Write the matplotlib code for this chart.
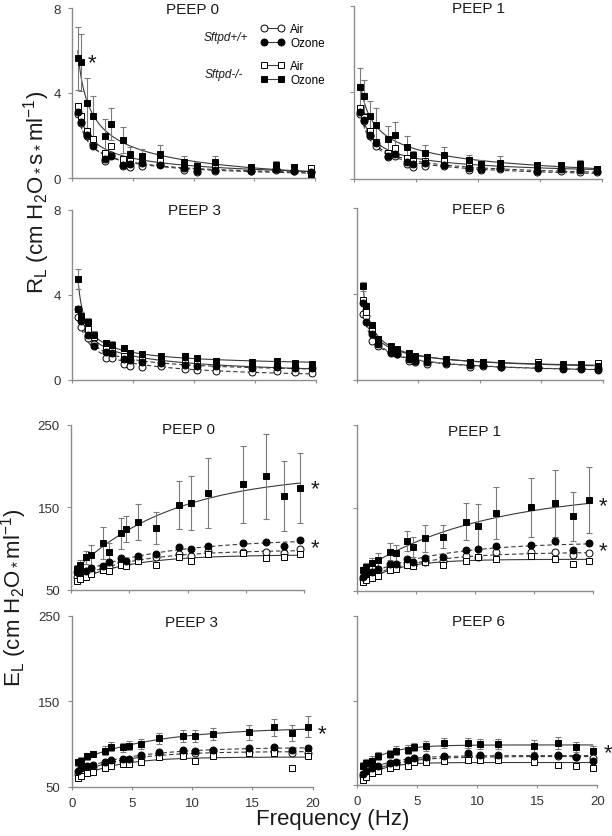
import numpy as np
import matplotlib
matplotlib.use('Agg')
import matplotlib.pyplot as plt
from matplotlib.lines import Line2D

plt.rcParams['font.family'] = ['Liberation Sans', 'DejaVu Sans']
plt.rcParams['mathtext.fontset'] = 'custom'
plt.rcParams['mathtext.rm'] = 'Liberation Sans'
plt.rcParams['mathtext.it'] = 'Liberation Sans:italic'

freq = [0.5, 0.75, 1.25, 1.75, 2.75, 3.25, 4.25, 4.75, 5.75, 7.25, 9.25, 10.25, 11.75, 14.75, 16.75, 18.25, 19.625]

# R_L  PEEP 0
r0_wt_air = [3.0, 2.6, 2.0, 1.6, 0.82, 1.1, 0.58, 0.5, 0.58, 0.66, 0.39, 0.3, 0.35, 0.32, 0.38, 0.35, 0.3]
r0_wt_oz = [3.09, 2.62, 2.02, 1.52, 0.89, 1.05, 0.63, 0.66, 0.7, 0.63, 0.45, 0.35, 0.39, 0.35, 0.42, 0.35, 0.3]
r0_ko_air = [3.37, 2.93, 2.23, 1.84, 1.2, 1.49, 0.9, 0.82, 0.78, 0.82, 0.5, 0.42, 0.45, 0.39, 0.45, 0.42, 0.45]
r0_ko_oz = [5.63, 5.44, 3.51, 2.9, 1.96, 2.54, 1.8, 1.13, 1.02, 1.13, 0.77, 0.58, 0.74, 0.5, 0.63, 0.5, 0.2]
r0_ko_oz_err = [1.47, 1.34, 1.18, 0.97, 0.82, 0.74, 0.62, 0.35, 0.34, 0.42, 0.28, 0.15, 0.28, 0.12, 0.15, 0.12, 0.1]

# R_L  PEEP 1
r1_wt_air = [3.0, 2.69, 2.0, 1.54, 1.0, 1.08, 0.69, 0.54, 0.62, 0.62, 0.43, 0.43, 0.46, 0.34, 0.38, 0.34, 0.31]
r1_wt_oz = [3.08, 2.74, 2.03, 1.66, 1.08, 1.15, 0.77, 0.69, 0.74, 0.66, 0.51, 0.46, 0.49, 0.38, 0.46, 0.43, 0.35]
r1_ko_air = [3.28, 2.85, 2.23, 1.69, 1.2, 1.42, 0.95, 0.82, 0.82, 0.82, 0.62, 0.54, 0.62, 0.46, 0.54, 0.62, 0.46]
r1_ko_oz = [4.26, 3.82, 2.92, 2.51, 1.85, 2.05, 1.49, 1.11, 1.2, 1.12, 0.88, 0.69, 0.74, 0.66, 0.66, 0.69, 0.46]
r1_ko_oz_err = [0.85, 0.77, 0.7, 0.75, 0.6, 0.6, 0.5, 0.2, 0.38, 0.38, 0.25, 0.2, 0.3, 0.1, 0.1, 0.2, 0.1]

# R_L  PEEP 3
r3_wt_air = [2.95, 2.5, 1.95, 1.7, 1.05, 1.05, 0.75, 0.65, 0.6, 0.65, 0.5, 0.45, 0.42, 0.37, 0.4, 0.37, 0.35]
r3_wt_oz = [3.35, 2.75, 2.1, 1.6, 1.3, 1.25, 1.0, 0.95, 0.85, 0.78, 0.72, 0.68, 0.65, 0.55, 0.6, 0.55, 0.55]
r3_ko_air = [3.35, 2.9, 2.4, 2.0, 1.45, 1.4, 1.15, 1.05, 0.95, 0.9, 0.8, 0.75, 0.72, 0.65, 0.65, 0.6, 0.55]
r3_ko_oz = [4.74, 3.0, 2.71, 2.13, 1.74, 1.66, 1.49, 1.27, 1.22, 1.11, 1.14, 1.03, 0.91, 0.83, 0.88, 0.8, 0.75]
r3_ko_oz_err = [0.47, 0.2, 0.2, 0.15, 0.15, 0.15, 0.15, 0.15, 0.1, 0.1, 0.12, 0.1, 0.1, 0.1, 0.1, 0.1, 0.1]

# R_L  PEEP 6
r6_wt_air = [3.07, 2.99, 1.83, 1.6, 1.29, 1.21, 0.87, 0.82, 0.74, 0.74, 0.62, 0.64, 0.59, 0.59, 0.54, 0.56, 0.56]
r6_wt_oz = [3.57, 2.68, 2.14, 1.67, 1.26, 1.21, 0.98, 0.9, 0.85, 0.79, 0.71, 0.7, 0.59, 0.54, 0.51, 0.51, 0.48]
r6_ko_air = [3.72, 3.15, 2.37, 1.9, 1.47, 1.36, 1.18, 1.05, 0.98, 0.9, 0.85, 0.82, 0.79, 0.82, 0.74, 0.74, 0.79]
r6_ko_oz = [4.36, 3.43, 2.56, 1.91, 1.57, 1.44, 1.26, 1.1, 1.09, 0.98, 0.85, 0.85, 0.79, 0.74, 0.7, 0.7, 0.67]
r6_ko_oz_err = [0.2, 0.15, 0.15, 0.1, 0.1, 0.1, 0.1, 0.1, 0.1, 0.1, 0.08, 0.08, 0.08, 0.08, 0.08, 0.08, 0.08]

# E_L  PEEP 0
e0_wt_air = [65, 67, 69, 71, 75, 77.1, 83.2, 81.2, 87.2, 89.3, 93.3, 91.3, 96.6, 96.2, 95.3, 94.5, 99.4]
e0_wt_oz = [71, 71.9, 73, 76.3, 79, 83.2, 88.5, 84.4, 91.3, 93.3, 101.4, 99.4, 103.4, 106.7, 107.5, 102.6, 110.7]
e0_ko_air = [61, 63, 65, 69, 74.3, 73, 80, 79.1, 85.2, 80.4, 89.3, 85.2, 93.3, 94.5, 88.5, 89.3, 93.3]
e0_ko_oz = [75, 80.4, 89.3, 92.1, 106.7, 96.2, 118.4, 123.7, 132.6, 124.9, 152.8, 154.9, 167.4, 177.9, 187.6, 164.2, 173.1]
e0_ko_oz_err = [5, 6, 8, 12, 19, 10, 18.6, 16, 22, 20, 29.6, 32.7, 42, 47, 51.4, 42.5, 42.5]

# E_L  PEEP 1
e1_wt_air = [64.1, 66.1, 68.9, 72.1, 77.4, 78.2, 83, 81, 85, 86.2, 92.3, 90.2, 96.3, 96.3, 96.3, 93.1, 95.5]
e1_wt_oz = [66.1, 70.1, 72.1, 76.2, 82.2, 82.2, 88.2, 84.2, 89.4, 91, 99.1, 100.3, 104.3, 105.5, 109.6, 99.5, 107.1]
e1_ko_air = [60.9, 62.9, 65.3, 68.1, 75.4, 76.2, 81, 80.2, 84.2, 81.4, 86.2, 90.2, 88.2, 92.3, 88.2, 82.2, 86.2]
e1_ko_oz = [75, 78.2, 83, 87.4, 97.1, 95.5, 109.6, 102.3, 113.2, 115.2, 133.3, 128.5, 143.8, 150.6, 155.4, 139.7, 159.9]
e1_ko_oz_err = [4, 5, 7, 8, 10, 10, 12, 12, 16, 14, 22, 26, 31, 36, 40, 30, 40]

# E_L  PEEP 3
e3_wt_air = [64.8, 66.8, 70.7, 72.6, 76.5, 78.5, 80.4, 80.4, 84.3, 88.2, 89.4, 89.4, 92.1, 90.2, 91.3, 89.4, 89.4]
e3_wt_oz = [67.9, 71.8, 74.6, 75.3, 78.5, 81.2, 82.4, 82.4, 87, 90.2, 93.3, 92.1, 93.3, 94.8, 96.8, 93.3, 94.8]
e3_ko_air = [59.7, 62.9, 66, 66.8, 71.4, 74.6, 76.5, 76.5, 78.5, 84.3, 85.5, 80.4, 86.3, 89.4, 89.4, 71.4, 86.3]
e3_ko_oz = [78.5, 80.4, 85.5, 88.2, 92.1, 96.8, 96, 98, 99.9, 106.5, 109.6, 108.9, 111.2, 113.5, 119.4, 112.8, 120.2]
e3_ko_oz_err = [4, 4, 4, 4, 5, 5, 5, 5, 6, 6, 7, 7, 7, 9, 10, 9, 12]

# E_L  PEEP 6
e6_wt_air = [61, 63, 67, 69.8, 73.7, 74.9, 76.9, 78.9, 80.8, 82.8, 84.8, 83.6, 82.8, 84, 84.8, 82.8, 81.6]
e6_wt_oz = [63, 67, 69.8, 72.1, 76.1, 77.7, 80, 82, 83.6, 84.8, 87.5, 86, 86, 84.8, 86, 82.8, 78.9]
e6_ko_air = [56.3, 59.1, 64.2, 67, 69.8, 72.9, 72.9, 76.9, 77.7, 78.9, 80, 80, 80, 76.9, 73.7, 72.9, 69.8]
e6_ko_oz = [72.1, 76.1, 78.9, 84, 86.8, 90.7, 91.9, 94.7, 96.6, 99.8, 99.8, 98.6, 98.6, 96.6, 99.8, 94.7, 90.7]
e6_ko_oz_err = [5, 5, 5, 5, 5, 5, 5, 5, 6, 6, 6, 6, 6, 7, 7, 6, 6]

W, H = 612, 837
fig = plt.figure(figsize=(W / 100, H / 100), dpi=100)


def px(x, y):
    return x / W, 1 - y / H


def make_axes(x0, x20, ytop, ybot):
    return fig.add_axes([x0 / W, 1 - ybot / H, (x20 - x0) / W, (ybot - ytop) / H])


def fit_curve(f, y, kind):
    # R: a + b*f^-c ; E: a - b*exp(-f/c) ; c picked by least squares over a grid
    f = np.array(f)
    y = np.array(y)
    fx = np.linspace(f.min(), f.max(), 200)
    best = None
    if kind == 'R':
        grid = np.linspace(0.3, 3.0, 271)
    else:
        grid = np.linspace(0.5, 40.0, 400)
    for c in grid:
        if kind == 'R':
            g = f ** -c
        else:
            g = np.exp(-f / c)
        A = np.column_stack([np.ones_like(f), g])
        coef, res, rk, sv = np.linalg.lstsq(A, y, rcond=None)
        err = np.sum((A @ coef - y) ** 2)
        if best is None or err < best[0]:
            best = (err, c, coef)
    err, c, coef = best
    if kind == 'R':
        return fx, coef[0] + coef[1] * fx ** -c
    return fx, coef[0] + coef[1] * np.exp(-fx / c)


def panel(ax, kind, wt_air, wt_oz, ko_air, ko_oz, ko_oz_err, left, bottom):
    groups = [
        (wt_air, 'o', 'white', (0, (4, 2.5))),
        (ko_air, 's', 'white', '-'),
        (wt_oz, 'o', 'black', (0, (4, 2.5))),
        (ko_oz, 's', 'black', '-'),
    ]
    for vals, mk, face, ls in groups:
        fx, fy = fit_curve(freq, vals, kind)
        ax.plot(fx, fy, color='#3a3a3a', lw=0.8, ls=ls, zorder=2)
    ax.errorbar(freq, ko_oz, yerr=ko_oz_err, fmt='none', ecolor='#7a7a7a',
                elinewidth=0.8, capsize=2, capthick=0.8, zorder=3)
    for vals, mk, face, ls in groups:
        ax.plot(freq, vals, ls='none', marker=mk, ms=5, mfc=face, mec='black',
                mew=0.7, zorder=4)
    ax.set_xlim(0, 20)
    ax.set_xticks([0, 5, 10, 15, 20])
    if kind == 'R':
        ax.set_ylim(0, 8)
        ax.set_yticks([0, 4, 8])
    else:
        ax.set_ylim(50, 250)
        ax.set_yticks([50, 150, 250])
    for s in ['top', 'right']:
        ax.spines[s].set_visible(False)
    for s in ['left', 'bottom']:
        ax.spines[s].set_color('#8c8c8c')
        ax.spines[s].set_linewidth(1.0)
    ax.tick_params(direction='out', length=3, width=0.8, color='#8c8c8c',
                   labelsize=9.5, labelcolor='#333333', pad=5)
    ax.tick_params(axis='x', length=2.5)
    ax.tick_params(axis='y', labelleft=left)
    ax.tick_params(axis='x', labelbottom=bottom)
    ax.patch.set_visible(False)


ax_r0 = make_axes(71.7, 315.3, 9, 179)
ax_r1 = make_axes(354.3, 601.7, 6.7, 180)
ax_r3 = make_axes(72.3, 316.3, 210.7, 381)
ax_r6 = make_axes(356.7, 602.7, 209, 381)
ax_e0 = make_axes(71, 304.3, 426, 590.7)
ax_e1 = make_axes(357.3, 593.3, 426, 591.7)
ax_e3 = make_axes(71.7, 312.7, 616.7, 787.7)
ax_e6 = make_axes(356.7, 597.3, 617, 786)

panel(ax_r0, 'R', r0_wt_air, r0_wt_oz, r0_ko_air, r0_ko_oz, r0_ko_oz_err, True, False)
panel(ax_r1, 'R', r1_wt_air, r1_wt_oz, r1_ko_air, r1_ko_oz, r1_ko_oz_err, False, False)
panel(ax_r3, 'R', r3_wt_air, r3_wt_oz, r3_ko_air, r3_ko_oz, r3_ko_oz_err, True, False)
panel(ax_r6, 'R', r6_wt_air, r6_wt_oz, r6_ko_air, r6_ko_oz, r6_ko_oz_err, False, False)
panel(ax_e0, 'E', e0_wt_air, e0_wt_oz, e0_ko_air, e0_ko_oz, e0_ko_oz_err, True, False)
panel(ax_e1, 'E', e1_wt_air, e1_wt_oz, e1_ko_air, e1_ko_oz, e1_ko_oz_err, False, False)
panel(ax_e3, 'E', e3_wt_air, e3_wt_oz, e3_ko_air, e3_ko_oz, e3_ko_oz_err, True, True)
panel(ax_e6, 'E', e6_wt_air, e6_wt_oz, e6_ko_air, e6_ko_oz, e6_ko_oz_err, False, True)

# panel titles
titles = [('PEEP 0', 193, 9.5), ('PEEP 1', 478, 9), ('PEEP 3', 194, 211), ('PEEP 6', 479, 210),
          ('PEEP 0', 188, 430), ('PEEP 1', 475, 432), ('PEEP 3', 191.5, 623), ('PEEP 6', 478, 622.5)]
for t, x, y in titles:
    fig.text(*px(x, y), t, ha='center', va='center', fontsize=11, color='#1a1a1a')

# significance stars (centre of the glyph in pixels)
stars = [(92.5, 57), (315.5, 483), (315.5, 542), (603, 499.5), (603, 544.5), (322, 728), (608, 747)]
star_size = 16
for x, y in stars:
    fig.text(*px(x, y + 0.56 * star_size * 100 / 72), '*', ha='center', va='baseline',
             fontsize=star_size, color='#1a1a1a')

# axis labels
fig.text(*px(37, 192), r'R$_\mathrm{L}$ (cm H$_\mathrm{2}$O$_*$s$_*$ml$^\mathrm{-1}$)',
         rotation=90, ha='center', va='center', fontsize=16, color='#1a1a1a')
fig.text(*px(14, 598), r'E$_\mathrm{L}$ (cm H$_\mathrm{2}$O$_*$ml$^\mathrm{-1}$)',
         rotation=90, ha='center', va='center', fontsize=16, color='#1a1a1a')
fig.text(*px(333, 820), 'Frequency (Hz)', ha='center', va='center', fontsize=16, color='#1a1a1a')

# legend
h_wt_air = Line2D([], [], color='#3a3a3a', lw=0.8, marker='o', ms=5, mfc='white', mec='black', mew=0.7)
h_wt_oz = Line2D([], [], color='#3a3a3a', lw=0.8, marker='o', ms=5, mfc='black', mec='black', mew=0.7)
h_ko_air = Line2D([], [], color='#3a3a3a', lw=0.8, marker='s', ms=5, mfc='white', mec='black', mew=0.7)
h_ko_oz = Line2D([], [], color='#3a3a3a', lw=0.8, marker='s', ms=5, mfc='black', mec='black', mew=0.7)
leg_kw = dict(frameon=False, numpoints=2, fontsize=8.5, handlelength=2.1, handletextpad=0.45,
              borderpad=0, borderaxespad=0, labelspacing=0.2, loc='upper left')
leg1 = fig.legend([h_wt_air, h_wt_oz], ['Air', 'Ozone'], bbox_to_anchor=px(260, 24), **leg_kw)
leg2 = fig.legend([h_ko_air, h_ko_oz], ['Air', 'Ozone'], bbox_to_anchor=px(260, 61), **leg_kw)
fig.text(*px(248, 38), 'Sftpd+/+', ha='right', va='center', fontsize=8.5, style='italic', color='#1a1a1a')
fig.text(*px(243, 75), 'Sftpd-/-', ha='right', va='center', fontsize=8.5, style='italic', color='#1a1a1a')

fig.savefig('out.png', dpi=100)
